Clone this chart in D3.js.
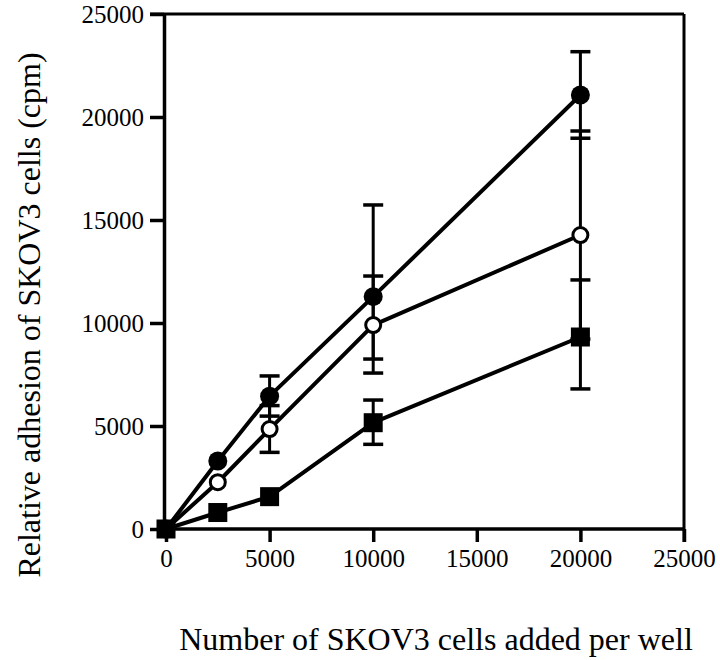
<!DOCTYPE html>
<html>
<head>
<meta charset="utf-8">
<script src="https://cdn.jsdelivr.net/npm/d3@7"></script>
<style>
  body { margin: 0; background: #fff; }
  svg { display: block; }
</style>
</head>
<body>
<svg id="chart" width="720" height="660"></svg>
<script>
// ---- data ----
const cellsAdded = [0, 2500, 5000, 10000, 20000];
const xTicks = [0, 5000, 10000, 15000, 20000, 25000];
const yTicks = [0, 5000, 10000, 15000, 20000, 25000];

const filledMean = [0, 3300, 6450, 11280, 21070];
const filledHigh = [0, 3300, 7430, 15730, 23170];
const filledLow  = [0, 3300, 5480, 8250, 18970];

const openMean = [0, 2270, 4850, 9900, 14270];
const openHigh = [0, 2270, 5990, 12280, 19320];
const openLow  = [0, 2270, 3720, 7570, 9220];

const squareMean = [0, 800, 1570, 5160, 9320];
const squareHigh = [0, 800, 1570, 6260, 12090];
const squareLow  = [0, 800, 1570, 4110, 6800];

const xTitle = "Number of SKOV3 cells added per well";
const yTitle = "Relative adhesion of SKOV3 cells (cpm)";

// ---- chart ----
const FONT = "'Liberation Serif', 'Times New Roman', Times, 'DejaVu Serif', serif";
const svg = d3.select("#chart");
const x = d3.scaleLinear().domain([0, 25000]).range([166, 684]);
const y = d3.scaleLinear().domain([0, 25000]).range([529, 14]);
const x0 = 164, yb = 529;

const series = [
  { mean: filledMean, hi: filledHigh, lo: filledLow, shape: "filled" },
  { mean: openMean, hi: openHigh, lo: openLow, shape: "open" },
  { mean: squareMean, hi: squareHigh, lo: squareLow, shape: "square" }
];

// frame (top & right)
svg.append("line").attr("x1", 150).attr("x2", x(25000)).attr("y1", y(25000)).attr("y2", y(25000))
  .attr("stroke", "#000").attr("stroke-width", 3);
svg.append("line").attr("x1", x(25000)).attr("x2", x(25000)).attr("y1", y(25000)).attr("y2", yb + 13)
  .attr("stroke", "#000").attr("stroke-width", 3);

// left axis
const yAxis = d3.axisLeft(y).tickValues(yTicks).tickSize(14).tickSizeOuter(0).tickPadding(6)
  .tickFormat(d3.format("d"));
const gy = svg.append("g").attr("transform", `translate(${x0},0)`).call(yAxis);
gy.select(".domain").attr("stroke-width", 3.5);
gy.selectAll(".tick line").attr("stroke-width", 3.5);

// bottom axis
const xAxis = d3.axisBottom(x).tickValues(xTicks).tickSize(13).tickSizeOuter(0).tickPadding(7)
  .tickFormat(d3.format("d"));
const gx = svg.append("g").attr("transform", `translate(0,${yb})`).call(xAxis);
gx.select(".domain").attr("d", `M${x0},0H${x(25000)}`).attr("stroke-width", 3.5);
gx.selectAll(".tick line").attr("stroke-width", 3.5);

[gx, gy].forEach(g => g.attr("font-family", FONT).attr("font-size", 25));
svg.selectAll(".tick text").attr("fill", "#000")
  .style("font-family", FONT).style("font-size", "25px");

// error bars
const capW = 10;
series.forEach(s => {
  const g = svg.append("g");
  cellsAdded.forEach((c, i) => {
    if (s.hi[i] === s.lo[i]) return;
    g.append("line").attr("x1", x(c)).attr("x2", x(c)).attr("y1", y(s.hi[i])).attr("y2", y(s.lo[i]))
      .attr("stroke", "#000").attr("stroke-width", 3);
    [s.hi[i], s.lo[i]].forEach(v => {
      g.append("line").attr("x1", x(c) - capW).attr("x2", x(c) + capW).attr("y1", y(v)).attr("y2", y(v))
        .attr("stroke", "#000").attr("stroke-width", 3.5);
    });
  });
});

// lines
const line = d3.line().x(d => x(d[0])).y(d => y(d[1]));
series.forEach(s => {
  svg.append("path").datum(cellsAdded.map((c, i) => [c, s.mean[i]]))
    .attr("d", line).attr("fill", "none").attr("stroke", "#000").attr("stroke-width", 4)
    .attr("stroke-linejoin", "round");
});

// markers
series.forEach(s => {
  const g = svg.append("g");
  cellsAdded.forEach((c, i) => {
    if (s.shape === "square") {
      g.append("rect").attr("x", x(c) - 9.5).attr("y", y(s.mean[i]) - 9.5)
        .attr("width", 19).attr("height", 19).attr("fill", "#000");
    } else if (s.shape === "filled") {
      g.append("circle").attr("cx", x(c)).attr("cy", y(s.mean[i])).attr("r", 9.5).attr("fill", "#000");
    } else {
      g.append("circle").attr("cx", x(c)).attr("cy", y(s.mean[i])).attr("r", 7.5)
        .attr("fill", "#fff").attr("stroke", "#000").attr("stroke-width", 3);
    }
  });
});

// titles
svg.append("text").attr("x", 436).attr("y", 650).attr("text-anchor", "middle")
  .style("font-family", FONT).style("font-size", "32px").text(xTitle);
svg.append("text").attr("transform", "translate(40,315) rotate(-90)").attr("text-anchor", "middle")
  .style("font-family", FONT).style("font-size", "32px").text(yTitle);
</script>
</body>
</html>
